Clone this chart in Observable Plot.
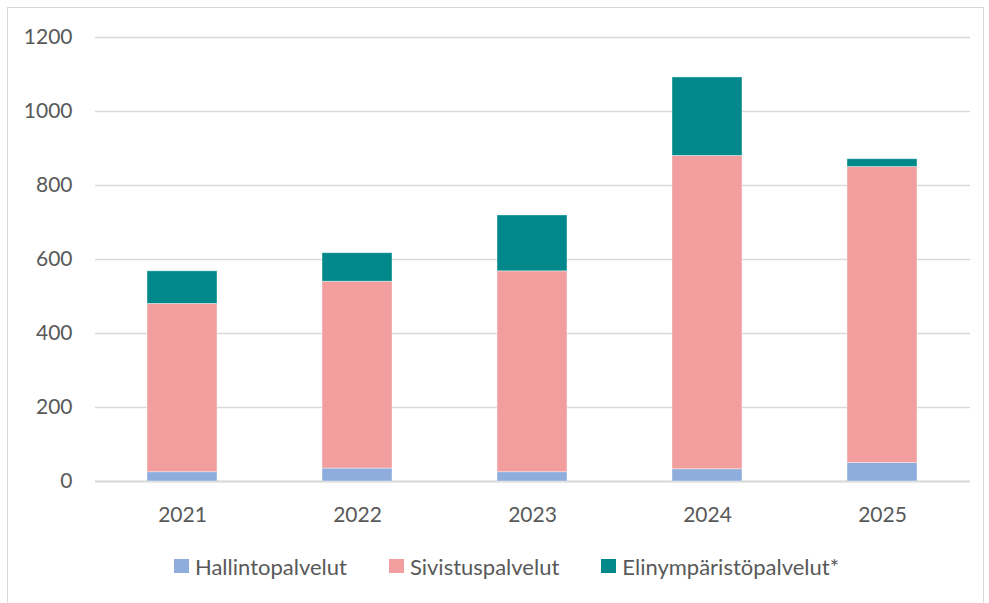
<!DOCTYPE html>
<html><head><meta charset="utf-8">
<script src="https://cdn.jsdelivr.net/npm/d3@7"></script>
<script src="https://cdn.jsdelivr.net/npm/@observablehq/plot@0.6"></script>
<style>
body{margin:0;background:#fff;font-family:Lato,"Noto Sans",sans-serif;}
#frame{position:absolute;left:7px;top:7px;width:977px;height:600px;border:1px solid #d9d9d9;box-sizing:border-box;}
#chart{position:absolute;left:0;top:0;}
#legend{position:absolute;left:0;top:553px;width:989px;height:26px;display:flex;justify-content:center;gap:42px;font-size:22px;color:#595959;box-sizing:border-box;transform:translateX(12px);}
#legend span{display:flex;align-items:center;}
#legend i{display:inline-block;width:15px;height:14px;margin-right:6px;}
</style></head>
<body>
<div id="frame"></div>
<div id="chart"></div>
<div id="legend"></div>
<script>
const years = ["2021","2022","2023","2024","2025"];
const series = ["Hallintopalvelut","Sivistuspalvelut","Elinympäristöpalvelut*"];
const hallinto = [25, 35, 25, 33, 50];
const sivistus = [455, 505, 543, 847, 800];
const elinymparisto = [88, 77, 151, 212, 21];
const colors = ["#8EADDC","#F29E9F","#00888A"];
const yTicks = [0,200,400,600,800,1000,1200];

const rows = [];
years.forEach((y,i)=>{
  rows.push({year:y, series:series[0], value:hallinto[i]});
  rows.push({year:y, series:series[1], value:sivistus[i]});
  rows.push({year:y, series:series[2], value:elinymparisto[i]});
});

const chart = Plot.plot({
  width: 989, height: 540,
  marginTop: 37, marginBottom: 59, marginLeft: 95, marginRight: 19,
  style: {fontFamily: "Lato, 'Noto Sans', sans-serif", fontSize: "21px", color: "#595959", background: "transparent"},
  x: {domain: years, paddingInner: 0.6, paddingOuter: 0.3, label: null},
  y: {domain: [0,1200], ticks: yTicks, label: null},
  color: {domain: series, range: colors},
  marks: [
    Plot.gridY(yTicks, {stroke: "#d9d9d9", strokeOpacity: 1, strokeWidth: 1.3}),
    Plot.ruleY([0], {stroke: "#d9d9d9", strokeWidth: 2}),
    Plot.barY(rows, {x: "year", y: "value", fill: "series", order: series, stroke: "#ffffff", strokeOpacity: 0.5, strokeWidth: 0.8}),
    Plot.axisX({tickSize: 0, tickPadding: 26, fontSize: 21, fill: "#595959"}),
    Plot.axisY({ticks: yTicks, tickFormat: d3.format("d"), tickSize: 0, tickPadding: 23, fontSize: 21, fill: "#595959"})
  ]
});
document.getElementById("chart").appendChild(chart);

const leg = document.getElementById("legend");
series.forEach((s,i)=>{
  const sp = document.createElement("span");
  const sw = document.createElement("i");
  sw.style.background = colors[i];
  sp.appendChild(sw);
  sp.appendChild(document.createTextNode(s));
  leg.appendChild(sp);
});
</script>
</body></html>
